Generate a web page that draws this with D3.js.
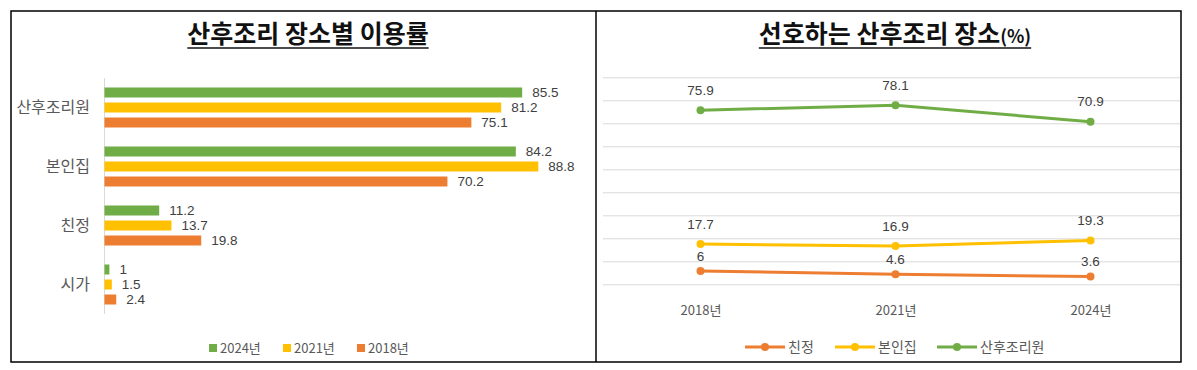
<!DOCTYPE html>
<html>
<head>
<meta charset="utf-8">
<title>산후조리 장소</title>
<style>
  html, body { margin: 0; padding: 0; background: #fff; }
  svg { display: block; }
  text { font-family: 'Noto Sans CJK KR', 'Noto Sans', sans-serif; }
  .title { font-weight: bold; fill: #111; }
  .val { fill: #404040; font-size: 13.5px; font-family: 'Liberation Sans Narrow', 'Liberation Sans', sans-serif; }
  .cat { fill: #595959; font-size: 16px; }
  .leg { fill: #595959; font-size: 13px; }
</style>
</head>
<body>
<svg width="1197" height="370"></svg>
<script src="https://cdn.jsdelivr.net/npm/d3@7"></script>
<script>

// ---- data: left (bar) chart
var barCategories = ["산후조리원", "본인집", "친정", "시가"];
var barYears = ["2024년", "2021년", "2018년"];
var use2024 = [85.5, 84.2, 11.2, 1];
var use2021 = [81.2, 88.8, 13.7, 1.5];
var use2018 = [75.1, 70.2, 19.8, 2.4];

// ---- data: right (line) chart
var lineYears = ["2018년", "2021년", "2024년"];
var lineNames = ["친정", "본인집", "산후조리원"];
var prefParents = [6, 4.6, 3.6];
var prefOwnHome = [17.7, 16.9, 19.3];
var prefCareCenter = [75.9, 78.1, 70.9];

var green = "#70ad47", yellow = "#ffc000", orange = "#ed7d31";

var svg = d3.select("svg");

// frame + divider
svg.append("rect")
    .attr("x", 11).attr("y", 11).attr("width", 1170).attr("height", 351)
    .attr("fill", "none").attr("stroke", "#000").attr("stroke-width", 1.5);
svg.append("line")
    .attr("x1", 596).attr("x2", 596).attr("y1", 11).attr("y2", 362)
    .attr("stroke", "#000").attr("stroke-width", 1.5);

function underlinedTitle(cx, y, parts) {
  var t = svg.append("text").attr("class", "title")
      .attr("x", cx).attr("y", y).attr("text-anchor", "middle");
  parts.forEach(function(p) {
    t.append("tspan").attr("font-size", p.size).text(p.text);
  });
  var bb = t.node().getBBox();
  svg.append("line")
      .attr("x1", bb.x).attr("x2", bb.x + bb.width)
      .attr("y1", y + 5).attr("y2", y + 5)
      .attr("stroke", "#111").attr("stroke-width", 1.5);
}

// ================= left: grouped horizontal bars
underlinedTitle(308, 43, [{text: "산후조리 장소별 이용률", size: 25}]);

var barData = barCategories.map(function(c, i) {
  return {cat: c, values: [use2024[i], use2021[i], use2018[i]]};
});
var barColors = [green, yellow, orange];

var y0 = d3.scaleBand().domain(barCategories).range([78, 314]).padding(0);
var y1 = d3.scaleBand().domain(barYears).range([0, y0.bandwidth()])
    .paddingInner(1 / 3).paddingOuter(0.633);
var xb = d3.scaleLinear().domain([0, 100]).range([104.5, 593]);

svg.append("line")
    .attr("x1", xb(0)).attr("x2", xb(0)).attr("y1", 78).attr("y2", 314)
    .attr("stroke", "#d9d9d9").attr("stroke-width", 1);

var grp = svg.selectAll(".grp")
  .data(barData)
  .enter().append("g")
    .attr("class", "grp")
    .attr("transform", function(d) { return "translate(0," + y0(d.cat) + ")"; });

grp.selectAll("rect")
  .data(function(d) { return d.values; })
  .enter().append("rect")
    .attr("x", xb(0))
    .attr("y", function(d, i) { return y1(barYears[i]); })
    .attr("width", function(d) { return xb(d) - xb(0); })
    .attr("height", y1.bandwidth())
    .attr("fill", function(d, i) { return barColors[i]; });

grp.selectAll(".val")
  .data(function(d) { return d.values; })
  .enter().append("text")
    .attr("class", "val")
    .attr("x", function(d) { return xb(d) + 10; })
    .attr("y", function(d, i) { return y1(barYears[i]) + y1.bandwidth() / 2; })
    .attr("dy", "0.35em")
    .text(function(d) { return d; });

svg.selectAll(".cat")
  .data(barCategories)
  .enter().append("text")
    .attr("class", "cat")
    .attr("x", 90)
    .attr("y", function(d) { return y0(d) + y0.bandwidth() / 2; })
    .attr("dy", "0.35em")
    .attr("text-anchor", "end")
    .text(function(d) { return d; });

// left legend
var legX = [209, 283, 357];
var lg = svg.selectAll(".lgl")
  .data(barYears)
  .enter().append("g")
    .attr("class", "lgl")
    .attr("transform", function(d, i) { return "translate(" + legX[i] + ",348)"; });
lg.append("rect").attr("x", 0).attr("y", -4).attr("width", 8).attr("height", 8)
    .attr("fill", function(d, i) { return barColors[i]; });
lg.append("text").attr("class", "leg").attr("x", 11).attr("dy", "0.35em")
    .text(function(d) { return d; });

// ================= right: line chart
underlinedTitle(895, 43, [{text: "선호하는 산후조리 장소", size: 25}, {text: "(%)", size: 18}]);

var xl = d3.scalePoint().domain(lineYears).range([603, 1188]).padding(0.5);
var yl = d3.scaleLinear().domain([0, 90]).range([284.8, 77.8]);

svg.append("g").selectAll("line")
  .data(yl.ticks(9))
  .enter().append("line")
    .attr("x1", 603).attr("x2", 1180)
    .attr("y1", function(d) { return yl(d); })
    .attr("y2", function(d) { return yl(d); })
    .attr("stroke", "#d9d9d9").attr("stroke-width", 1);

var xAxis = svg.append("g")
    .attr("transform", "translate(0,310)")
    .call(d3.axisBottom(xl).tickSize(0).tickPadding(0));
xAxis.select(".domain").remove();
xAxis.selectAll("text")
    .attr("class", "leg")
    .attr("dy", "0.35em")
    .style("font-family", "'Noto Sans CJK KR', sans-serif");

var lineData = [
  {name: lineNames[0], color: orange, values: prefParents, off: 15},
  {name: lineNames[1], color: yellow, values: prefOwnHome, off: 20},
  {name: lineNames[2], color: green, values: prefCareCenter, off: 20}
];

var line = d3.line()
    .x(function(d, i) { return xl(lineYears[i]); })
    .y(function(d) { return yl(d); });

var sg = svg.selectAll(".series")
  .data(lineData)
  .enter().append("g")
    .attr("class", "series");

sg.append("path")
    .attr("d", function(d) { return line(d.values); })
    .attr("fill", "none")
    .attr("stroke", function(d) { return d.color; })
    .attr("stroke-width", 3);

sg.each(function(s) {
  var g = d3.select(this);
  g.selectAll("circle")
    .data(s.values)
    .enter().append("circle")
      .attr("cx", function(d, i) { return xl(lineYears[i]); })
      .attr("cy", function(d) { return yl(d); })
      .attr("r", 4)
      .attr("fill", s.color);
  g.selectAll("text")
    .data(s.values)
    .enter().append("text")
      .attr("class", "val")
      .attr("x", function(d, i) { return xl(lineYears[i]); })
      .attr("y", function(d) { return yl(d) - s.off; })
      .attr("dy", "0.35em")
      .attr("text-anchor", "middle")
      .text(function(d) { return d; });
});

// right legend
var rLegX = [745, 835, 937];
var rl = svg.selectAll(".lgr")
  .data(lineData)
  .enter().append("g")
    .attr("class", "lgr")
    .attr("transform", function(d, i) { return "translate(" + rLegX[i] + ",347)"; });
rl.append("line").attr("x1", 0).attr("x2", 40)
    .attr("stroke", function(d) { return d.color; }).attr("stroke-width", 3);
rl.append("circle").attr("cx", 20).attr("r", 4)
    .attr("fill", function(d) { return d.color; });
rl.append("text").attr("class", "leg").attr("x", 43).attr("dy", "0.35em")
    .style("font-size", "14px")
    .text(function(d) { return d.name; });

</script>
</body>
</html>
